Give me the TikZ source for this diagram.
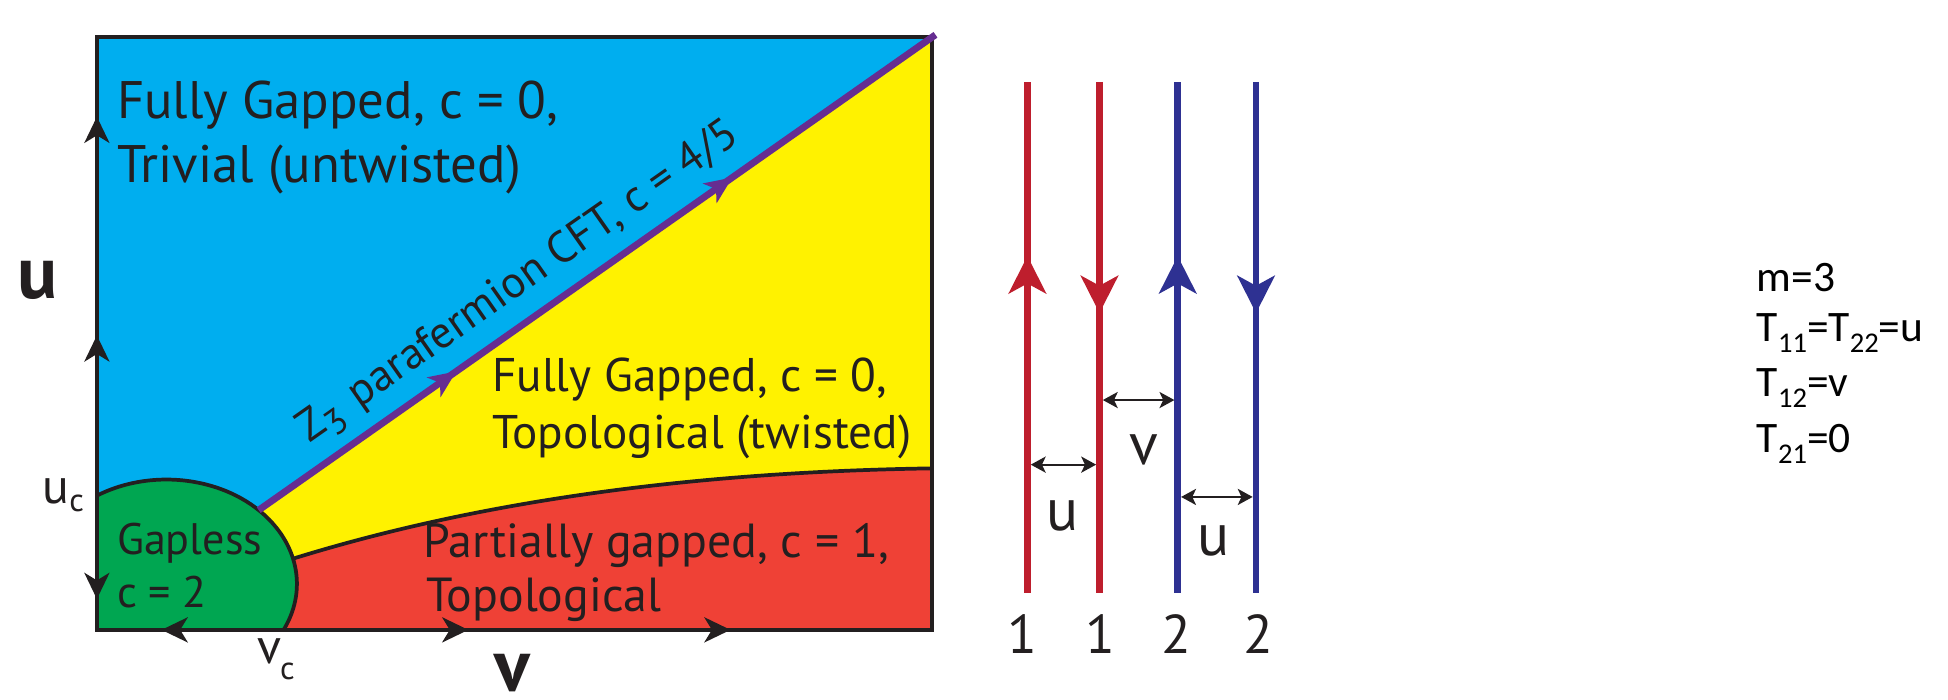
\documentclass[tikz,border=0pt]{standalone}
\usepackage{fontspec}
\setmainfont{PT Sans}
\newfontfamily\calfont{Carlito}
\usetikzlibrary{arrows.meta,decorations.markings}
\definecolor{ink}{HTML}{231F20}
\definecolor{regblue}{HTML}{00AEEF}
\definecolor{regyellow}{HTML}{FFF200}
\definecolor{regred}{HTML}{EF4136}
\definecolor{reggreen}{HTML}{00A651}
\definecolor{cftpurple}{HTML}{662D91}
\definecolor{wirered}{HTML}{BE1E2D}
\definecolor{wireblue}{HTML}{2E3192}
\newcommand\wsub[1]{\raisebox{-9pt}{\fontsize{23}{23}\selectfont #1}}
\begin{document}
\begin{tikzpicture}[x=1pt,y=1pt,
  rtxt/.style={inner sep=0pt, anchor=base west, text=ink},
  axlbl/.style={inner sep=0pt, anchor=base, text=ink, font=\bfseries\fontsize{60}{60}\selectfont},
  smlbl/.style={inner sep=0pt, anchor=base west, text=ink, font=\fontsize{40}{40}\selectfont},
  wlbl/.style={inner sep=0pt, anchor=base, text=ink, font=\fontsize{48}{48}\selectfont},
  digit/.style={inner sep=0pt, anchor=base, text=ink, font=\fontsize{44}{44}\selectfont},
  ctxt/.style={inner sep=0pt, anchor=base west, text=black, font=\calfont\fontsize{35}{35}\selectfont},
  edgeline/.style={line width=3pt, draw=ink},
  frameline/.style={line width=3.5pt, draw=ink},
  cftline/.style={line width=5.5pt, draw=cftpurple},
  wire/.style={line width=5.4pt},
  gapline/.style={line width=1.6pt, draw=ink, {Stealth[length=12pt,width=13pt,inset=3pt]}-{Stealth[length=12pt,width=13pt,inset=3pt]}},
  axtip/.tip={Stealth[length=21pt,width=20pt,inset=6pt]},
  ptip/.tip={Stealth[length=22pt,width=19pt,inset=6pt]},
  wtip/.tip={Stealth[length=30pt,width=30pt,inset=8pt]},
]
\useasboundingbox (0,0) rectangle (1568,563);

% frame corners and key points
\coordinate (BL) at (78,56);
\coordinate (BR) at (750,56);
\coordinate (TR) at (750,533);
\coordinate (TL) at (78,533);
\coordinate (EC) at (134,93);
\path (EC) ++(45:105 and 84) coordinate (P45);
\path (EC) ++(14:105 and 84) coordinate (P14);
\path (EC) ++(122.2:105 and 84) coordinate (EL);
\coordinate (RC) at (750,186);
\coordinate (TRx) at (753,535);

% regions
\fill[regblue] (BL) rectangle (TR);
\fill[regyellow] (P45) -- (TR) -- (RC) .. controls (550,183) and (380,158) .. (P14) -- cycle;
\fill[regred] (P14) .. controls (380,158) and (550,183) .. (RC) -- (BR) -- (200,56) -- (200,113.3) -- cycle;
\fill[reggreen] (EL) arc[start angle=122.2, end angle=-26.1, x radius=105, y radius=84] -- (BL) -- cycle;

% boundaries
\draw[edgeline] (EL) arc[start angle=122.2, end angle=-26.1, x radius=105, y radius=84];
\draw[edgeline] (P14) .. controls (380,158) and (550,183) .. (RC);
\draw[frameline] (BL) rectangle (TR);
\draw[frameline, postaction={decorate, decoration={markings,
    mark=at position 0.052 with {\arrowreversed{axtip}},
    mark=at position 0.497 with {\arrow{axtip}},
    mark=at position 0.866 with {\arrow{axtip}}}}] (BL) -- (TL);
\draw[frameline, postaction={decorate, decoration={markings,
    mark=at position 0.0774 with {\arrowreversed{axtip}},
    mark=at position 0.445 with {\arrow{axtip}},
    mark=at position 0.759 with {\arrow{axtip}}}}] (BL) -- (BR);
\draw[cftline, postaction={decorate, decoration={markings,
    mark=at position 0.292 with {\arrow{ptip}},
    mark=at position 0.700 with {\arrow{ptip}}}}] (P45) -- (TRx);

% region texts
\node[rtxt, font=\fontsize{42.5}{42.5}\selectfont] (bl1) at (94,468) {Fully Gapped, c = 0,};
\node[rtxt, font=\fontsize{42.5}{42.5}\selectfont] (bl2) at (94,416) {Trivial (untwisted)};
\node[rtxt, font=\fontsize{38}{38}\selectfont] (yl1) at (396,248) {Fully Gapped, c = 0,};
\node[rtxt, font=\fontsize{38}{38}\selectfont] (yl2) at (396,202) {Topological (twisted)};
\node[rtxt, font=\fontsize{38.5}{38.5}\selectfont] (rd1) at (341,114) {Partially gapped, c = 1,};
\node[rtxt, font=\fontsize{38.5}{38.5}\selectfont] (rd2) at (343,71) {Topological};
\node[rtxt, font=\fontsize{35.5}{35.5}\selectfont] (gr1) at (94,117) {Gapless};
\node[rtxt, font=\fontsize{35.5}{35.5}\selectfont] (gr2) at (94,74) {c = 2};
\node[rtxt, rotate=35, font=\fontsize{36}{36}\selectfont] (cft) at (249,206)
  {Z\raisebox{-8pt}{\fontsize{29}{29}\selectfont 3}\hspace{14pt}parafermion CFT, c = 4/5};

% axis labels
\node[axlbl] (ulab) at (30,323) {u};
\node[axlbl] (vlab) at (412,6) {v};
\node[smlbl] (uc) at (34,158) {u\raisebox{-7pt}{\fontsize{26}{26}\selectfont c}};
\node[smlbl] (vc) at (207,29) {v\kern-1pt\raisebox{-13pt}{\fontsize{26}{26}\selectfont c}};

% wires
\coordinate (r1b) at (827,86);  \coordinate (r1t) at (827,497);
\coordinate (r2b) at (885,86);  \coordinate (r2t) at (885,497);
\coordinate (b1b) at (948,86);  \coordinate (b1t) at (948,497);
\coordinate (b2b) at (1011,86); \coordinate (b2t) at (1011,497);
\draw[wire, draw=wirered, postaction={decorate, decoration={markings,
    mark=at position 0.659 with {\arrow{wtip}}}}] (r1b) -- (r1t);
\draw[wire, draw=wirered, postaction={decorate, decoration={markings,
    mark=at position 0.4526 with {\arrow{wtip}}}}] (r2t) -- (r2b);
\draw[wire, draw=wireblue, postaction={decorate, decoration={markings,
    mark=at position 0.659 with {\arrow{wtip}}}}] (b1b) -- (b1t);
\draw[wire, draw=wireblue, postaction={decorate, decoration={markings,
    mark=at position 0.4526 with {\arrow{wtip}}}}] (b2t) -- (b2b);

% couplings
\coordinate (gu1a) at (829.7,189); \coordinate (gu1b) at (882.3,189);
\coordinate (gva) at (887.7,241);  \coordinate (gvb) at (945.3,241);
\coordinate (gu2a) at (950.7,163); \coordinate (gu2b) at (1008.3,163);
\draw[gapline] (gu1a) -- (gu1b);
\draw[gapline] (gva) -- (gvb);
\draw[gapline] (gu2a) -- (gu2b);
\node[wlbl] (lu1) at (855,136) {u};
\node[wlbl] (lv) at (921,189) {v};
\node[wlbl] (lu2) at (977,116) {u};

% wire indices
\node[digit] (d1) at (823,37) {1};
\node[digit] (d2) at (886,37) {1};
\node[digit] (d3) at (947,37) {2};
\node[digit] (d4) at (1013,37) {2};

% parameters
\node[ctxt] (m3) at (1414,328) {m=3};
\node[ctxt] (t1) at (1414,288) {T\wsub{11}=T\wsub{22}=u};
\node[ctxt] (t2) at (1414,244) {T\wsub{12}=v};
\node[ctxt] (t3) at (1414,199) {T\wsub{21}=0};
\end{tikzpicture}
\end{document}
